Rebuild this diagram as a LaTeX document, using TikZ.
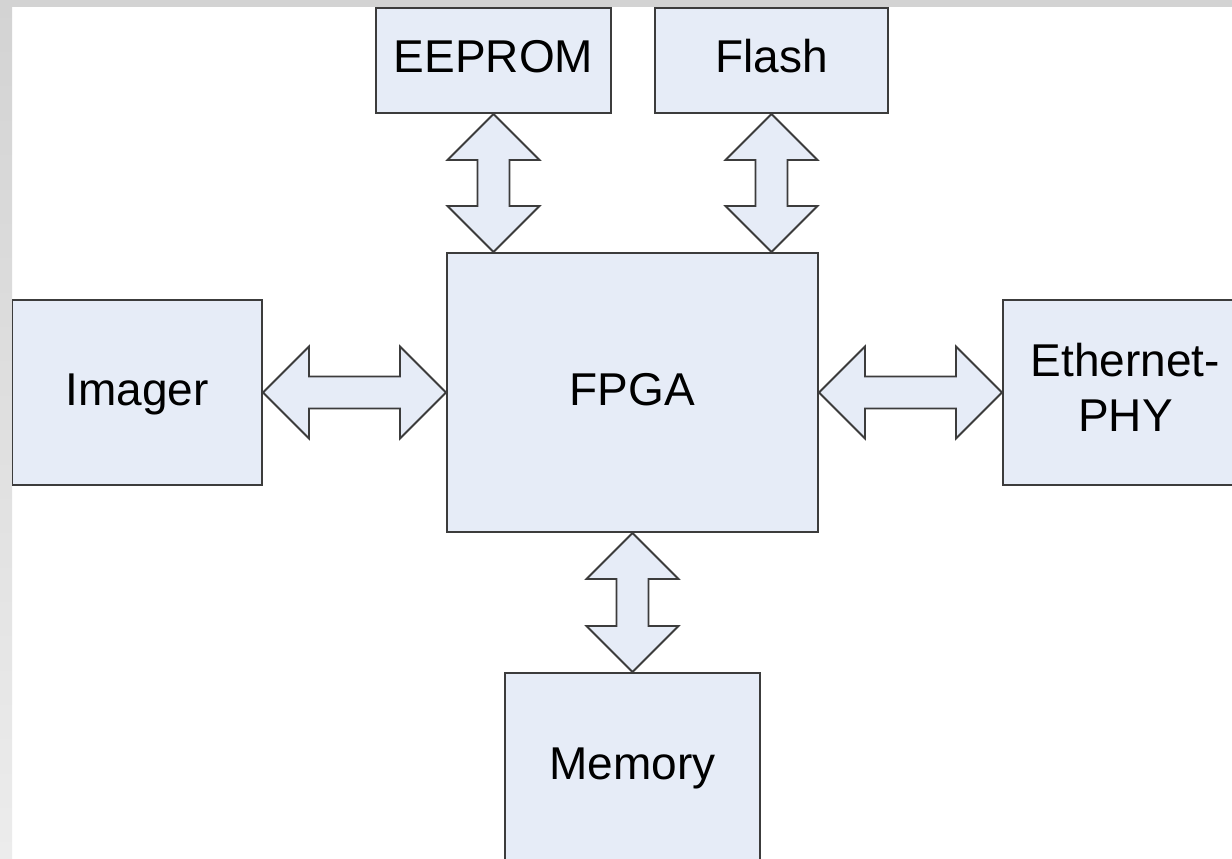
\documentclass[tikz,border=0pt]{standalone}
\usepackage{fontspec}
\setmainfont{Liberation Sans}
\usetikzlibrary{calc}
\definecolor{boxfill}{RGB}{230,236,247}
\definecolor{edge}{RGB}{60,60,60}
\definecolor{frametop}{RGB}{211,211,211}
\definecolor{framebot}{RGB}{236,236,236}
\tikzset{
  blk/.style={draw=edge, line width=2pt, fill=boxfill, inner sep=0pt,
    font=\fontsize{46}{55}\selectfont, text height=33pt, text depth=8pt},
  frame/.style={draw=edge, line width=2pt, fill=boxfill, inner sep=0pt},
  lbl/.style={inner sep=0pt, font=\fontsize{46}{55}\selectfont, align=center},
  bus/.style={draw=edge, line width=1.8pt, fill=boxfill, line join=miter},
}
% horizontal double-headed bus arrow between two tips
\newcommand\hbus[2]{%
  \draw[bus] (#1) -- ++(46,-46) -- ++(0,30) -- ($(#2)+(-46,-16)$) -- ++(0,-30)
    -- (#2) -- ++(-46,46) -- ++(0,-30) -- ($(#1)+(46,16)$) -- ++(0,30) -- cycle;}
% vertical double-headed bus arrow between two tips
\newcommand\vbus[2]{%
  \draw[bus] (#1) -- ++(46,46) -- ++(-30,0) -- ($(#2)+(16,-46)$) -- ++(30,0)
    -- (#2) -- ++(-46,-46) -- ++(30,0) -- ($(#1)+(-16,46)$) -- ++(-30,0) -- cycle;}
\begin{document}
\begin{tikzpicture}[x=1pt,y=-1pt]
\path[use as bounding box] (0,0) rectangle (1232,859);
\fill[white] (0,0) rectangle (1232,859);
% grey frame strips
\shade[top color=frametop, bottom color=framebot] (0,0) rectangle (12,859);
\fill[frametop] (0,0) rectangle (1232,7);
\begin{scope}
\clip (12,7) rectangle (1232,859);
% blocks
\node[blk, minimum width=235, minimum height=105] (eeprom) at (493.5,60.5) {EEPROM};
\node[blk, minimum width=233, minimum height=105] (flash) at (771.5,60.5) {Flash};
\node[blk, minimum width=371, minimum height=279] (fpga) at (632.5,392.5) {FPGA};
\node[blk, minimum width=250, minimum height=185] (imager) at (137,392.5) {Imager};
\node[frame, minimum width=247, minimum height=185] (eth) at (1126.5,392.5) {};
\node[lbl] (ethtxt) at ($(eth.center)+(-1,-5)$) {Ethernet-\\PHY};
\node[frame, minimum width=255, minimum height=210, anchor=north] (mem) at (632.5,672) {};
\node[lbl] (memtxt) at ($(mem.north)+(0,96)$) {Memory};
% ports on the FPGA top edge
\coordinate (eepromport) at (eeprom.south |- fpga.north);
\coordinate (flashport) at (flash.south |- fpga.north);
% bus connections
\hbus{imager.east}{fpga.west}
\hbus{fpga.east}{eth.west}
\vbus{eeprom.south}{eepromport}
\vbus{flash.south}{flashport}
\vbus{fpga.south}{mem.north}
\end{scope}
\end{tikzpicture}
\end{document}
